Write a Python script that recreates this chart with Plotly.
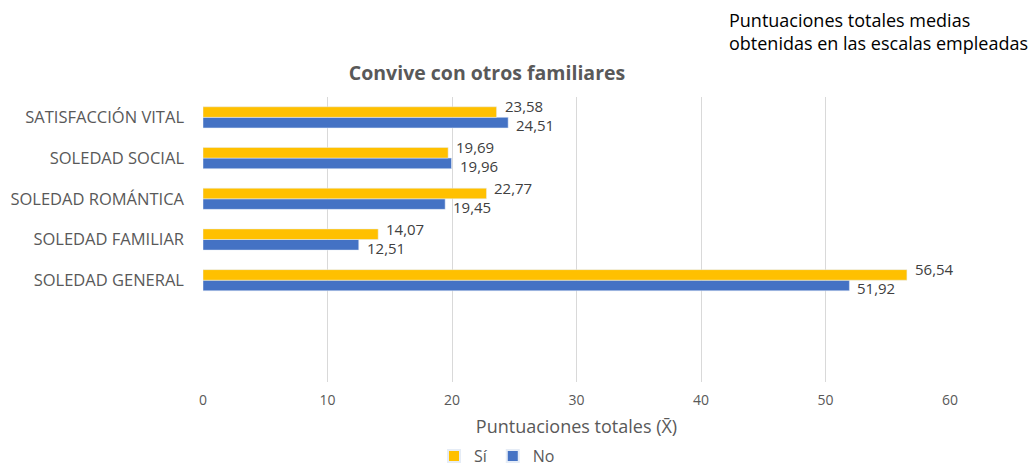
import plotly.graph_objects as go

categories = ["SOLEDAD GENERAL", "SOLEDAD FAMILIAR", "SOLEDAD ROMÁNTICA", "SOLEDAD SOCIAL", "SATISFACCIÓN VITAL"]
si_values = [56.54, 14.07, 22.77, 19.69, 23.58]
no_values = [51.92, 12.51, 19.45, 19.96, 24.51]
x_ticks = [0, 10, 20, 30, 40, 50, 60]

W, H = 1033, 469
label_font = dict(family="Open Sans", size=15, color="#404040")

fig = go.Figure()
fig.add_trace(go.Bar(
    y=categories, x=no_values, name="No", orientation="h",
    marker=dict(color="#4472C4"), legendrank=2,
))
fig.add_trace(go.Bar(
    y=categories, x=si_values, name="Sí", orientation="h",
    marker=dict(color="#FFC000"), legendrank=1,
))

# value labels (decimal comma), yellow above, blue below
for cat, v in zip(categories, si_values):
    fig.add_annotation(x=v, y=cat, text=f"{v:.2f}".replace(".", ","), showarrow=False,
                       xanchor="left", yanchor="middle", xshift=6, yshift=11,
                       font=label_font)
for cat, v in zip(categories, no_values):
    fig.add_annotation(x=v, y=cat, text=f"{v:.2f}".replace(".", ","), showarrow=False,
                       xanchor="left", yanchor="middle", xshift=6, yshift=-8,
                       font=label_font)

fig.update_layout(
    width=W, height=H,
    margin=dict(l=203, r=83, t=97, b=87, autoexpand=False),
    paper_bgcolor="white", plot_bgcolor="white",
    barmode="group", bargap=0.48, bargroupgap=0,
    separators=",.",
    font=dict(family="Open Sans", color="#595959"),
    title=dict(text="<b>Convive con otros familiares</b>", x=487 / W, xref="container",
               xanchor="center", y=1 - 73 / H, yref="container", yanchor="middle",
               font=dict(family="Open Sans", size=19.5, color="#595959")),
    xaxis=dict(range=[0, 60], tickvals=x_ticks, showgrid=True, gridcolor="#D9D9D9",
               gridwidth=1, zeroline=False, showline=False, ticks="", automargin=False,
               ticklabelstandoff=8,
               tickfont=dict(family="Open Sans", size=14, color="#595959"),
               title=dict(text="Puntuaciones totales (X̄)", standoff=12,
                          font=dict(family="Open Sans", size=18, color="#595959"))),
    yaxis=dict(type="category", categoryorder="array", categoryarray=categories,
               range=[-2.5, 4.5], showgrid=False, zeroline=False, showline=False,
               ticks="", ticklabelstandoff=18, automargin=False,
               tickfont=dict(family="Open Sans", size=16.5, color="#595959")),
    showlegend=True,
    legend=dict(orientation="h", x=497 / W, xref="container", xanchor="center",
                y=1 - 456 / H, yref="container", yanchor="middle",
                font=dict(family="Open Sans", size=16, color="#595959"),
                itemwidth=30, itemsizing="constant", tracegroupgap=0),
)

fig.add_annotation(
    text="Puntuaciones totales medias<br>obtenidas en las escalas empleadas",
    xref="paper", yref="paper", x=(727 - 203) / (W - 203 - 83), y=1 + (97 - 6) / (H - 97 - 87),
    xanchor="left", yanchor="top", align="left", showarrow=False,
    font=dict(family="Open Sans", size=18, color="#000000"),
)

fig.write_html("out.html", config={"displayModeBar": False},
               post_script="document.body.style.margin='0px';document.body.style.overflow='hidden';")
